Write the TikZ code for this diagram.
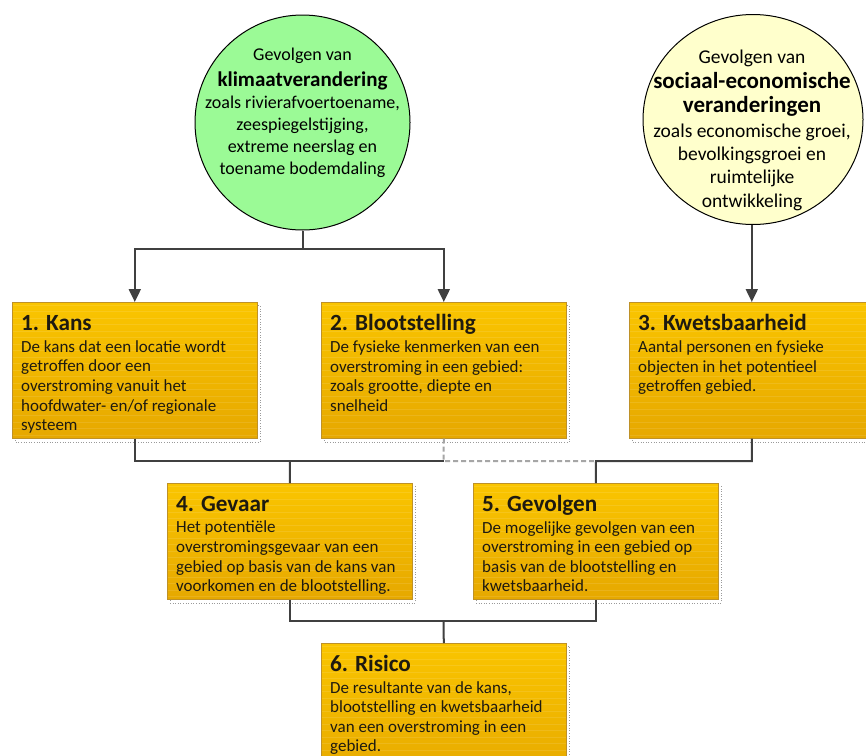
\documentclass[tikz,border=0pt]{standalone}
\usepackage{fontspec}
\setmainfont{Carlito}
\usetikzlibrary{arrows.meta,shapes.geometric}
\definecolor{linegray}{HTML}{404040}
\definecolor{dashgray}{HTML}{A6A6A6}
\definecolor{dotgray}{HTML}{9A9A9A}
\definecolor{greenfill}{RGB}{155,250,150}
\definecolor{yellowfill}{HTML}{FFFFCC}
\definecolor{boxtop}{RGB}{250,197,0}
\definecolor{boxbot}{RGB}{230,168,0}
\definecolor{boxedge}{RGB}{190,145,40}
\definecolor{boxtext}{HTML}{1E1A10}
\tikzset{
  stepbox/.style={rectangle, draw=boxedge, line width=0.6pt, top color=boxtop, bottom color=boxbot,
    minimum width=245pt, inner sep=0pt, anchor=north west,
    path picture={\foreach \k in {3,9.5,...,160}
      \draw[white, opacity=0.10, line width=0.8pt]
        ([yshift=-\k pt]path picture bounding box.north west) --
        ([yshift=-\k pt]path picture bounding box.north east);}},
  boxlabel/.style={anchor=north west, inner sep=0pt, align=left, text=boxtext,
    font=\fontsize{17}{19.6}\selectfont},
  shadowbox/.style={draw=dotgray, line width=0.6pt, dotted},
  conn/.style={draw=linegray, line width=2pt},
  arr/.style={conn, -{Triangle[length=13pt,width=12pt]}},
  dashconn/.style={draw=dashgray, line width=2pt, dash pattern=on 5pt off 3pt},
  circtext/.style={anchor=north, inner sep=0pt, align=center, text=black,
    font=\fontsize{18}{22}\selectfont},
}
\newcommand{\ttl}[1]{\rule{0pt}{16pt}{\fontsize{23.2}{22}\selectfont\bfseries #1}\\[2pt]}
\begin{document}
\begin{tikzpicture}[x=1pt,y=-1pt]
\useasboundingbox (0,0) rectangle (866,755);
\clip (0,0) rectangle (866,755);
\fill[white] (0,0) rectangle (866,755);

% circles
\node[ellipse, draw=black, line width=1pt, fill=greenfill, minimum width=215pt, minimum height=215pt, inner sep=0pt] (klimaat) at (302.5,122.5) {};
\node[circtext] (klimaattxt) at (302.5,47) {\rule{0pt}{13pt}Gevolgen van\\[4pt]
  {\fontsize{21}{22}\selectfont\bfseries klimaatverandering}\\
  zoals rivierafvoertoename,\\ zeespiegelstijging,\\ extreme neerslag en\\ toename bodemdaling};

\node[ellipse, draw=black, line width=1pt, fill=yellowfill, minimum width=220pt, minimum height=210pt, inner sep=0pt] (sociaal) at (753,119.5) {};
\node[circtext, font=\fontsize{19.5}{23.3}\selectfont] (sociaaltxt) at (752,50) {\rule{0pt}{13pt}Gevolgen van\\[1pt]
  {\fontsize{23}{23}\selectfont\bfseries sociaal-economische}\\[1.5pt]
  {\fontsize{23}{23}\selectfont\bfseries veranderingen}\\[1pt]
  zoals economische groei,\\ bevolkingsgroei en\\ ruimtelijke\\ ontwikkeling};

% shadows
\foreach \x/\y/\h in {12/302/136, 321/302/136, 629/302/136, 167/483/116, 473/483/116, 321/643/140}{
  \draw[shadowbox] (\x+3,\y+3) rectangle (\x+248,\y+\h+4);
}

% boxes
\node[stepbox, minimum height=136pt] (b1) at (12,302) {};
\node[stepbox, minimum height=136pt] (b2) at (321,302) {};
\node[stepbox, minimum height=136pt] (b3) at (629,302) {};
\node[stepbox, minimum height=116pt] (b4) at (167,483) {};
\node[stepbox, minimum height=116pt] (b5) at (473,483) {};
\node[stepbox, minimum height=140pt] (b6) at (321,643) {};

\node[boxlabel] (b1t) at ([shift={(9,12.5)}]b1.north west) {\ttl{1. Kans}
  De kans dat een locatie wordt\\ getroffen door een\\ overstroming vanuit het\\ hoofdwater- en/of regionale\\ systeem};
\node[boxlabel] (b2t) at ([shift={(9,12.5)}]b2.north west) {\ttl{2. Blootstelling}
  De fysieke kenmerken van een\\ overstroming in een gebied:\\ zoals grootte, diepte en\\ snelheid};
\node[boxlabel] (b3t) at ([shift={(9,12.5)}]b3.north west) {\ttl{3. Kwetsbaarheid}
  Aantal personen en fysieke\\ objecten in het potentieel\\ getroffen gebied.};
\node[boxlabel] (b4t) at ([shift={(9,12)}]b4.north west) {\ttl{4. Gevaar}
  Het potentiële\\ overstromingsgevaar van een\\ gebied op basis van de kans van\\ voorkomen en de blootstelling.};
\node[boxlabel] (b5t) at ([shift={(9,12)}]b5.north west) {\ttl{5. Gevolgen}
  De mogelijke gevolgen van een\\ overstroming in een gebied op\\ basis van de blootstelling en\\ kwetsbaarheid.};
\node[boxlabel] (b6t) at ([shift={(9,12)}]b6.north west) {\ttl{6. Risico}
  De resultante van de kans,\\ blootstelling en kwetsbaarheid\\ van een overstroming in een\\ gebied.};

% connectors
\coordinate (kj) at (302.5,248.5);
\draw[conn] (klimaat.south) -- (kj);
\draw[arr] (kj) -| (b1.north);
\draw[arr] (kj) -| (b2.north);
\draw[arr] (sociaal.south -| b3.north) -- (b3.north);

\coordinate (j2) at (443.5,461);
\coordinate (j4) at (290,461);
\coordinate (j5) at (596,461);
\draw[dashconn] (b2.south) -- (j2) -- (j5);
\draw[conn] (b1.south) |- (j2);
\draw[conn] (j4) -- (b4.north);
\draw[conn] (b3.south) |- (j5) -- (b5.north);

\coordinate (j6) at (443.5,621);
\draw[conn] (b4.south) |- (j6) -| (b5.south);
\draw[conn] (j6) -- (b6.north);
\end{tikzpicture}
\end{document}
